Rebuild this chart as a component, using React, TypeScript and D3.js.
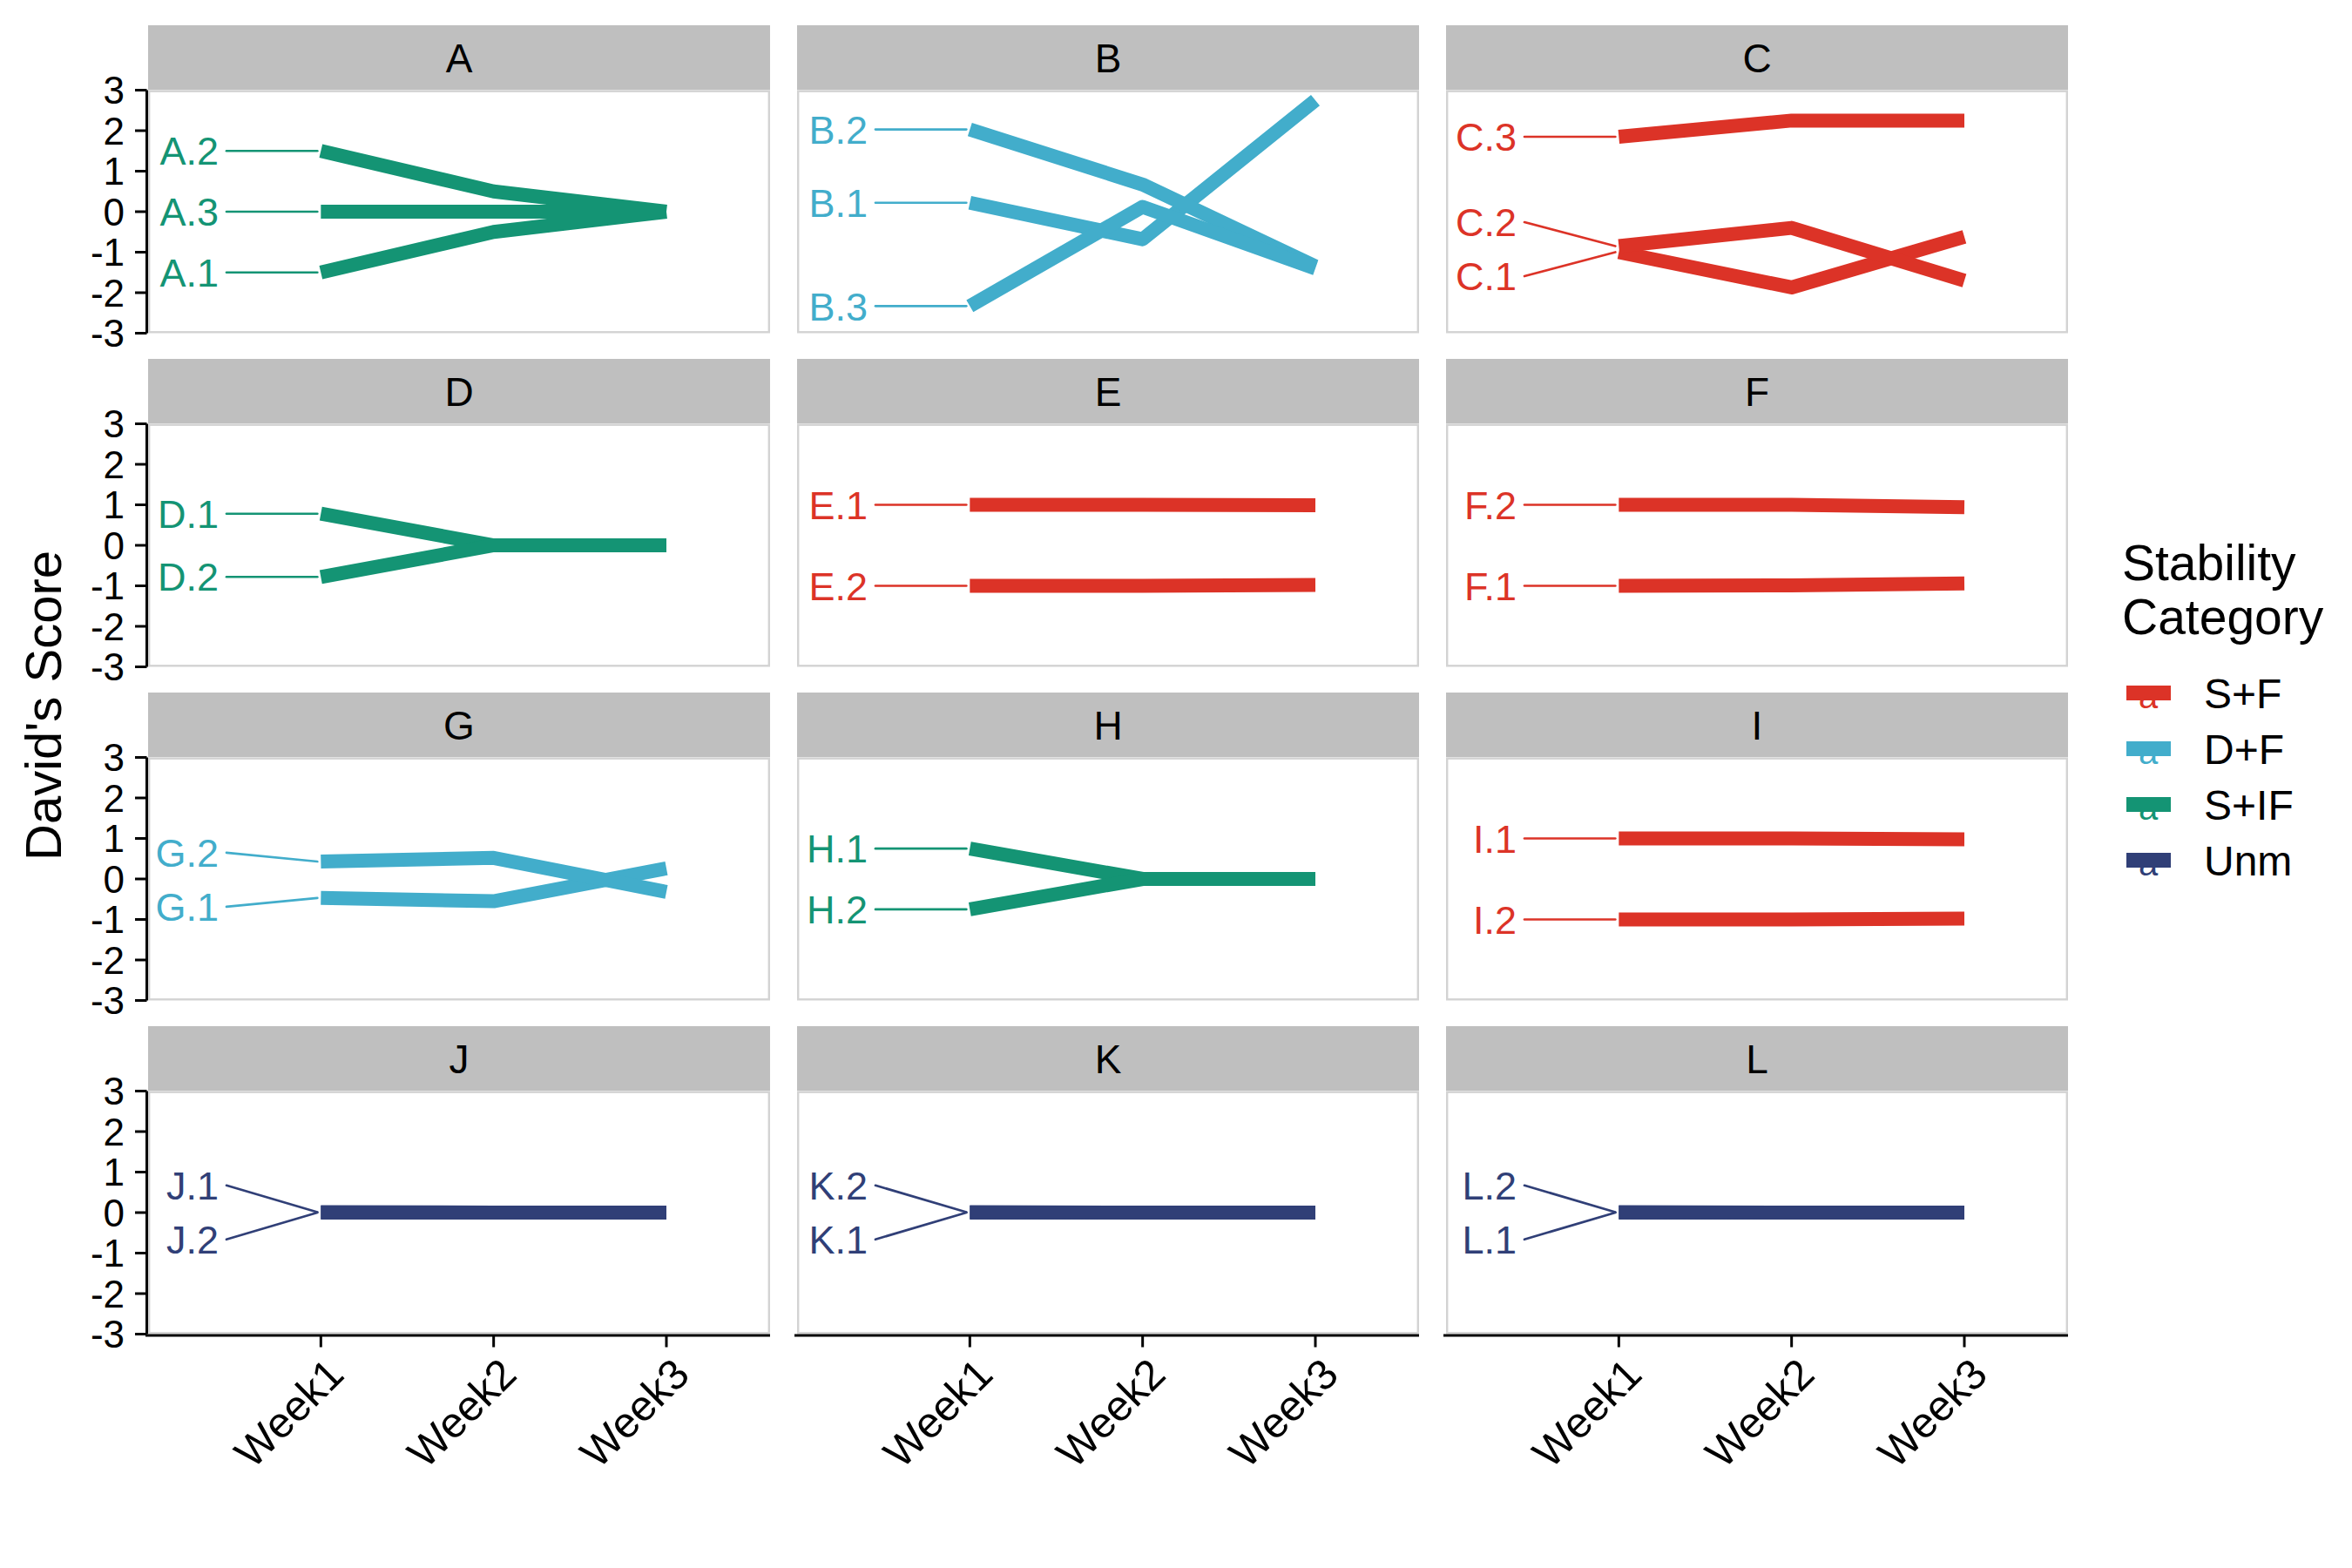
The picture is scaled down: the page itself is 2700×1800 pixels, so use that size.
import React, { useRef, useEffect } from 'react';
import * as d3 from 'd3';

// ---- data ----
const weeks = ['Week1', 'Week2', 'Week3'];
const yTicks = [-3, -2, -1, 0, 1, 2, 3];
const categories = ['S+F', 'D+F', 'S+IF', 'Unm'];
const categoryColors = ['#DC3327', '#42ADCB', '#149474', '#303F77'];

const panelNames = ['A', 'B', 'C', 'D', 'E', 'F', 'G', 'H', 'I', 'J', 'K', 'L'];
const panelCategory = ['S+IF', 'D+F', 'S+F', 'S+IF', 'S+F', 'S+F', 'D+F', 'S+IF', 'S+F', 'Unm', 'Unm', 'Unm'];

const scoresA = { 'A.1': [-1.5, -0.5, 0], 'A.2': [1.5, 0.5, 0], 'A.3': [0, 0, 0] };
const scoresB = { 'B.1': [0.22, -0.68, 2.75], 'B.2': [2.03, 0.67, -1.35], 'B.3': [-2.33, 0.12, -1.4] };
const scoresC = { 'C.1': [-1.0, -1.87, -0.62], 'C.2': [-0.85, -0.4, -1.7], 'C.3': [1.85, 2.25, 2.25] };
const scoresD = { 'D.1': [0.78, 0, 0], 'D.2': [-0.78, 0, 0] };
const scoresE = { 'E.1': [1.0, 1.0, 0.99], 'E.2': [-1.0, -1.0, -0.98] };
const scoresF = { 'F.1': [-1.0, -0.99, -0.94], 'F.2': [1.0, 1.0, 0.94] };
const scoresG = { 'G.1': [-0.47, -0.55, 0.26], 'G.2': [0.43, 0.52, -0.32] };
const scoresH = { 'H.1': [0.75, 0, 0], 'H.2': [-0.75, 0, 0] };
const scoresI = { 'I.1': [1.0, 1.0, 0.98], 'I.2': [-1.0, -1.0, -0.98] };
const scoresJ = { 'J.1': [0.01, 0, 0], 'J.2': [0, 0, 0] };
const scoresK = { 'K.1': [0, 0, 0], 'K.2': [0.01, 0, 0] };
const scoresL = { 'L.1': [0, 0, 0], 'L.2': [0.01, 0, 0] };

const panelScores: Record<string, number[]>[] = [
    scoresA, scoresB, scoresC, scoresD, scoresE, scoresF,
    scoresG, scoresH, scoresI, scoresJ, scoresK, scoresL,
];

const FONT = '"Liberation Sans", Arial, Helvetica, sans-serif';

const App: React.FC = () => {
    const svgRef = useRef<SVGSVGElement | null>(null);

    useEffect(() => {
        document.body.style.margin = '0';
        if (!svgRef.current) return;
        const svg = d3.select(svgRef.current);
        svg.selectAll('*').remove();

        const width = 2700;
        const height = 1800;
        svg.attr('width', width).attr('height', height).style('font-family', FONT);
        svg.append('rect').attr('width', width).attr('height', height).attr('fill', '#ffffff');

        const colLeft = [170, 915, 1660];
        const panelW = 714;
        const stripTop0 = 29;
        const rowPitch = 383;
        const stripH = 74.5;
        const panelH = 279;

        const color = d3.scaleOrdinal<string>().domain(categories).range(categoryColors);

        const x = d3.scaleLinear().domain([0, 3.6]).range([0, panelW]);
        const y = d3.scaleLinear().domain([-3, 3]).range([panelH, 0]);
        const line = d3.line<number>()
            .x((d, i) => x(i + 1))
            .y(d => y(d));

        const defs = svg.append('defs');

        panelNames.forEach((name, p) => {
            const col = p % 3;
            const row = Math.floor(p / 3);
            const left = colLeft[col];
            const stripTop = stripTop0 + row * rowPitch;
            const top = stripTop + stripH;
            const c = color(panelCategory[p]);
            const scores = panelScores[p];

            // strip
            svg.append('rect')
                .attr('x', left).attr('y', stripTop)
                .attr('width', panelW).attr('height', stripH)
                .attr('fill', '#BFBFBF');
            svg.append('text')
                .attr('x', left + panelW / 2).attr('y', stripTop + stripH / 2)
                .attr('dy', '0.36em')
                .attr('text-anchor', 'middle')
                .attr('font-size', 46)
                .attr('fill', '#000')
                .text(name);

            const g = svg.append('g').attr('transform', `translate(${left},${top})`);
            g.append('rect').attr('width', panelW).attr('height', panelH).attr('fill', '#fff');

            defs.append('clipPath').attr('id', `clip-${name}`)
                .append('rect').attr('width', panelW).attr('height', panelH);

            const ids = Object.keys(scores);

            // lines
            g.append('g').attr('clip-path', `url(#clip-${name})`)
                .selectAll('path')
                .data(ids)
                .enter().append('path')
                .attr('d', id => line(scores[id]))
                .attr('fill', 'none')
                .attr('stroke', c)
                .attr('stroke-width', 16)
                .attr('stroke-linejoin', 'round')
                .attr('stroke-linecap', 'butt');

            // repel-like label placement at Week1
            const minSep = 62;
            const placed = ids
                .map(id => ({ id, py: y(scores[id][0]), ly: y(scores[id][0]) }))
                .sort((a, b) => a.py - b.py);
            for (let it = 0; it < 200; it++) {
                let moved = false;
                for (let i = 0; i < placed.length - 1; i++) {
                    const gap = placed[i + 1].ly - placed[i].ly;
                    if (gap < minSep - 0.01) {
                        const push = (minSep - gap) / 2;
                        placed[i].ly -= push;
                        placed[i + 1].ly += push;
                        moved = true;
                    }
                }
                if (!moved) break;
            }

            const labelRight = 81;
            const segStart = 90;
            const x1 = x(1);

            g.selectAll('line.seg')
                .data(placed)
                .enter().append('line')
                .attr('class', 'seg')
                .attr('x1', segStart).attr('y1', d => d.ly)
                .attr('x2', x1 - 4).attr('y2', d => d.py)
                .attr('stroke', c)
                .attr('stroke-width', 2.7)
                .attr('stroke-linecap', 'round');

            g.selectAll('text.lab')
                .data(placed)
                .enter().append('text')
                .attr('class', 'lab')
                .attr('x', labelRight).attr('y', d => d.ly)
                .attr('dy', '0.36em')
                .attr('text-anchor', 'end')
                .attr('font-size', 45)
                .attr('fill', c)
                .text(d => d.id);

            // panel border
            g.append('rect')
                .attr('x', 1.2).attr('y', 1.2)
                .attr('width', panelW - 2.4).attr('height', panelH - 2.4)
                .attr('fill', 'none')
                .attr('stroke', '#D3D3D3')
                .attr('stroke-width', 2.4);

            // y axis on left column
            if (col === 0) {
                const ya = g.append('g');
                ya.append('line')
                    .attr('x1', -1.5).attr('x2', -1.5)
                    .attr('y1', 0).attr('y2', panelH)
                    .attr('stroke', '#000').attr('stroke-width', 3);
                ya.selectAll('line.tick')
                    .data(yTicks)
                    .enter().append('line')
                    .attr('class', 'tick')
                    .attr('x1', -15).attr('x2', -1.5)
                    .attr('y1', d => y(d)).attr('y2', d => y(d))
                    .attr('stroke', '#000').attr('stroke-width', 3);
                ya.selectAll('text')
                    .data(yTicks)
                    .enter().append('text')
                    .attr('x', -27).attr('y', d => y(d))
                    .attr('dy', '0.36em')
                    .attr('text-anchor', 'end')
                    .attr('font-size', 44)
                    .attr('fill', '#000')
                    .text(d => String(d));
            }

            // x axis on bottom row
            if (row === 3) {
                const xa = g.append('g').attr('transform', `translate(0,${panelH})`);
                xa.append('line')
                    .attr('x1', -3).attr('x2', panelW)
                    .attr('y1', 1.5).attr('y2', 1.5)
                    .attr('stroke', '#000').attr('stroke-width', 3);
                xa.selectAll('line.tick')
                    .data(weeks)
                    .enter().append('line')
                    .attr('class', 'tick')
                    .attr('x1', (d, i) => x(i + 1)).attr('x2', (d, i) => x(i + 1))
                    .attr('y1', 1.5).attr('y2', 15)
                    .attr('stroke', '#000').attr('stroke-width', 3);
                xa.selectAll('text')
                    .data(weeks)
                    .enter().append('text')
                    .attr('transform', (d, i) => `translate(${x(i + 1) + 4},24) rotate(-45)`)
                    .attr('dy', '0.72em')
                    .attr('text-anchor', 'end')
                    .attr('font-size', 49)
                    .attr('fill', '#000')
                    .text(d => d);
            }
        });

        // y axis title
        svg.append('text')
            .attr('transform', 'translate(70,810) rotate(-90)')
            .attr('text-anchor', 'middle')
            .attr('font-size', 58)
            .attr('fill', '#000')
            .text("David's Score");

        // legend
        const legend = svg.append('g');
        legend.append('text')
            .attr('x', 2436).attr('y', 666)
            .attr('font-size', 57).attr('fill', '#000')
            .text('Stability');
        legend.append('text')
            .attr('x', 2436).attr('y', 728)
            .attr('font-size', 57).attr('fill', '#000')
            .text('Category');

        const items = legend.selectAll('g.item')
            .data(categories)
            .enter().append('g')
            .attr('class', 'item')
            .attr('transform', (d, i) => `translate(0,${796 + i * 64})`);

        items.append('text')
            .attr('x', 2466).attr('y', 17)
            .attr('text-anchor', 'middle')
            .attr('font-size', 40)
            .attr('fill', d => color(d))
            .text('a');
        items.append('rect')
            .attr('x', 2441).attr('y', -9)
            .attr('width', 51).attr('height', 17)
            .attr('fill', d => color(d));
        items.append('text')
            .attr('x', 2530).attr('y', 17)
            .attr('font-size', 48)
            .attr('fill', '#000')
            .text(d => d);
    }, []);

    return (
        <div style={{ width: '2700px', height: '1800px' }}>
            <svg ref={svgRef}></svg>
        </div>
    );
};

export default App;
